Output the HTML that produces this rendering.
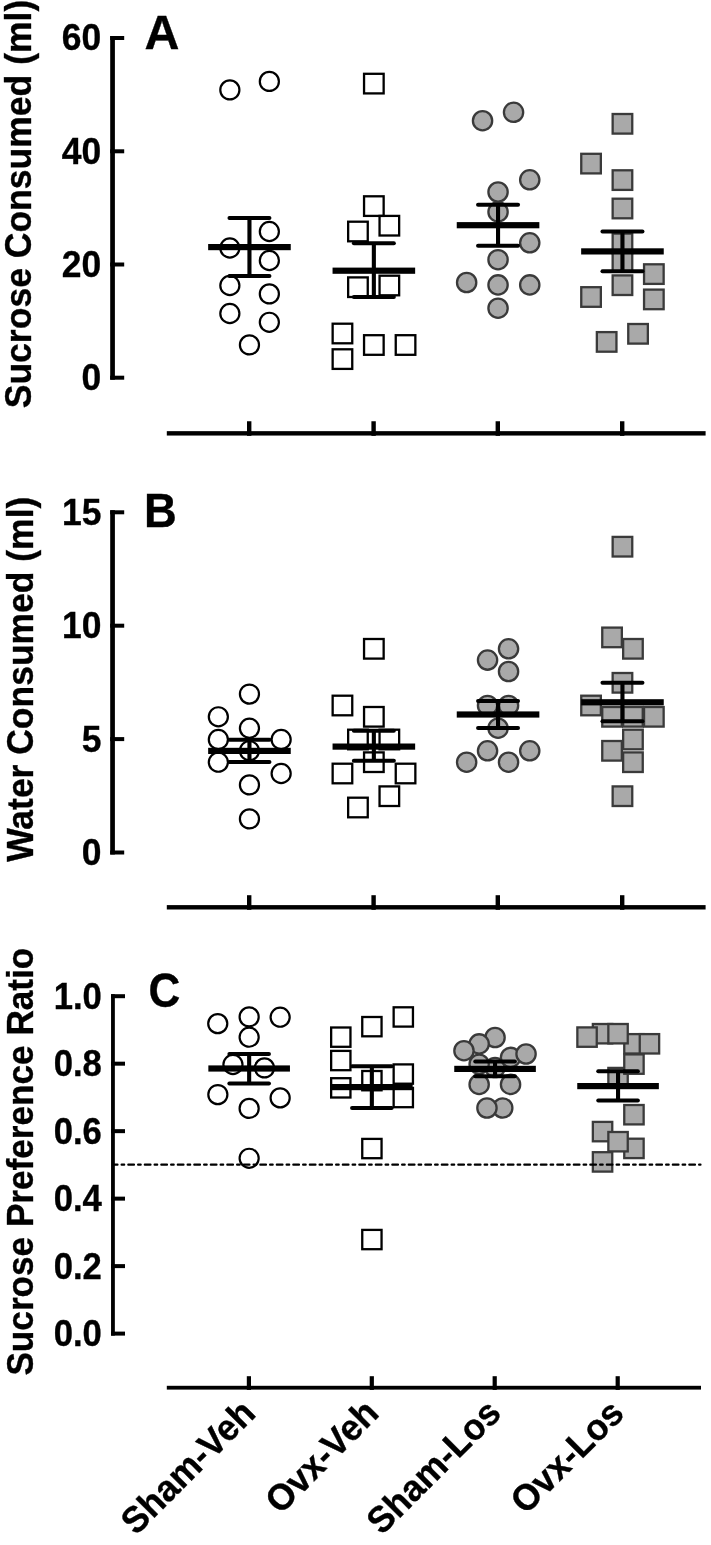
<!DOCTYPE html>
<html lang="en"><head><meta charset="utf-8"><title>Figure</title>
<style>
html,body{margin:0;padding:0;background:#fff;}
svg{display:block;}
text{font-family:"Liberation Sans", Arial, Helvetica, sans-serif;font-weight:bold;fill:#000;stroke:#000;stroke-width:0.35px;}
</style></head><body>
<svg role="img" aria-label="Scatter plots A, B, C" width="711" height="1545" viewBox="0 0 711 1545">
<rect width="711" height="1545" fill="#fff"/>
<rect x="110.20" y="36.00" width="4.70" height="343.70" fill="#000"/>
<rect x="110.20" y="36.00" width="14.00" height="4" fill="#000"/>
<rect x="110.20" y="149.30" width="14.00" height="4" fill="#000"/>
<rect x="110.20" y="262.50" width="14.00" height="4" fill="#000"/>
<rect x="110.20" y="375.70" width="14.00" height="4" fill="#000"/>
<rect x="166.80" y="431.15" width="538.80" height="4.4" fill="#000"/>
<rect x="247.00" y="421.25" width="4.4" height="14.60" fill="#000"/>
<rect x="371.40" y="421.25" width="4.4" height="14.60" fill="#000"/>
<rect x="495.60" y="421.25" width="4.4" height="14.60" fill="#000"/>
<rect x="620.00" y="421.25" width="4.4" height="14.60" fill="#000"/>
<g transform="translate(0.25 0.4)">
<circle cx="229.6" cy="89.5" r="9.55" fill="none" stroke="#000" stroke-width="2.2"/>
<circle cx="269.1" cy="81.0" r="9.55" fill="none" stroke="#000" stroke-width="2.2"/>
<circle cx="269.1" cy="231.1" r="9.55" fill="none" stroke="#000" stroke-width="2.2"/>
<circle cx="229.6" cy="247.6" r="9.55" fill="none" stroke="#000" stroke-width="2.2"/>
<circle cx="269.1" cy="260.1" r="9.55" fill="none" stroke="#000" stroke-width="2.2"/>
<circle cx="229.6" cy="285.1" r="9.55" fill="none" stroke="#000" stroke-width="2.2"/>
<circle cx="269.1" cy="293.5" r="9.55" fill="none" stroke="#000" stroke-width="2.2"/>
<circle cx="229.6" cy="313.1" r="9.55" fill="none" stroke="#000" stroke-width="2.2"/>
<circle cx="269.1" cy="321.9" r="9.55" fill="none" stroke="#000" stroke-width="2.2"/>
<circle cx="249.2" cy="344.5" r="9.55" fill="none" stroke="#000" stroke-width="2.2"/>
<rect x="363.8" y="73.4" width="19.6" height="19.6" fill="none" stroke="#000" stroke-width="2.3"/>
<rect x="363.8" y="195.9" width="19.6" height="19.6" fill="none" stroke="#000" stroke-width="2.3"/>
<rect x="379.3" y="215.5" width="19.6" height="19.6" fill="none" stroke="#000" stroke-width="2.3"/>
<rect x="347.9" y="221.3" width="19.6" height="19.6" fill="none" stroke="#000" stroke-width="2.3"/>
<rect x="347.9" y="277.0" width="19.6" height="19.6" fill="none" stroke="#000" stroke-width="2.3"/>
<rect x="379.3" y="275.3" width="19.6" height="19.6" fill="none" stroke="#000" stroke-width="2.3"/>
<rect x="332.4" y="323.3" width="19.6" height="19.6" fill="none" stroke="#000" stroke-width="2.3"/>
<rect x="363.8" y="334.8" width="19.6" height="19.6" fill="none" stroke="#000" stroke-width="2.3"/>
<rect x="395.5" y="334.8" width="19.6" height="19.6" fill="none" stroke="#000" stroke-width="2.3"/>
<rect x="332.4" y="348.9" width="19.6" height="19.6" fill="none" stroke="#000" stroke-width="2.3"/>
<circle cx="482.3" cy="120.3" r="9.65" fill="#a9a9a9" stroke="#3a3a3a" stroke-width="2.3"/>
<circle cx="513.3" cy="111.9" r="9.65" fill="#a9a9a9" stroke="#3a3a3a" stroke-width="2.3"/>
<circle cx="529.5" cy="179.4" r="9.65" fill="#a9a9a9" stroke="#3a3a3a" stroke-width="2.3"/>
<circle cx="497.8" cy="211.5" r="9.65" fill="#a9a9a9" stroke="#3a3a3a" stroke-width="2.3"/>
<circle cx="497.8" cy="191.6" r="9.65" fill="#a9a9a9" stroke="#3a3a3a" stroke-width="2.3"/>
<circle cx="529.5" cy="242.4" r="9.65" fill="#a9a9a9" stroke="#3a3a3a" stroke-width="2.3"/>
<circle cx="497.8" cy="259.3" r="9.65" fill="#a9a9a9" stroke="#3a3a3a" stroke-width="2.3"/>
<circle cx="466.4" cy="282.1" r="9.65" fill="#a9a9a9" stroke="#3a3a3a" stroke-width="2.3"/>
<circle cx="497.8" cy="284.5" r="9.65" fill="#a9a9a9" stroke="#3a3a3a" stroke-width="2.3"/>
<circle cx="529.5" cy="284.5" r="9.65" fill="#a9a9a9" stroke="#3a3a3a" stroke-width="2.3"/>
<circle cx="497.8" cy="307.8" r="9.65" fill="#a9a9a9" stroke="#3a3a3a" stroke-width="2.3"/>
<rect x="612.4" y="113.6" width="19.6" height="19.6" fill="#a9a9a9" stroke="#3a3a3a" stroke-width="2.3"/>
<rect x="581.0" y="153.4" width="19.6" height="19.6" fill="#a9a9a9" stroke="#3a3a3a" stroke-width="2.3"/>
<rect x="612.4" y="169.9" width="19.6" height="19.6" fill="#a9a9a9" stroke="#3a3a3a" stroke-width="2.3"/>
<rect x="612.4" y="198.3" width="19.6" height="19.6" fill="#a9a9a9" stroke="#3a3a3a" stroke-width="2.3"/>
<rect x="612.4" y="233.2" width="19.6" height="19.6" fill="#a9a9a9" stroke="#3a3a3a" stroke-width="2.3"/>
<rect x="612.4" y="251.2" width="19.6" height="19.6" fill="#a9a9a9" stroke="#3a3a3a" stroke-width="2.3"/>
<rect x="643.8" y="263.9" width="19.6" height="19.6" fill="#a9a9a9" stroke="#3a3a3a" stroke-width="2.3"/>
<rect x="612.4" y="275.0" width="19.6" height="19.6" fill="#a9a9a9" stroke="#3a3a3a" stroke-width="2.3"/>
<rect x="581.0" y="286.8" width="19.6" height="19.6" fill="#a9a9a9" stroke="#3a3a3a" stroke-width="2.3"/>
<rect x="643.8" y="289.2" width="19.6" height="19.6" fill="#a9a9a9" stroke="#3a3a3a" stroke-width="2.3"/>
<rect x="628.0" y="323.6" width="19.6" height="19.6" fill="#a9a9a9" stroke="#3a3a3a" stroke-width="2.3"/>
<rect x="596.6" y="331.7" width="19.6" height="19.6" fill="#a9a9a9" stroke="#3a3a3a" stroke-width="2.3"/>
<rect x="247.15" y="217.50" width="4.1" height="58.10" fill="#000"/>
<rect x="227.20" y="215.50" width="44" height="4.0" rx="2.0" fill="#000"/>
<rect x="227.20" y="273.60" width="44" height="4.0" rx="2.0" fill="#000"/>
<rect x="207.90" y="243.60" width="82.60" height="6.2" fill="#000"/>
<rect x="371.55" y="242.80" width="4.1" height="53.80" fill="#000"/>
<rect x="351.60" y="240.80" width="44" height="4.0" rx="2.0" fill="#000"/>
<rect x="351.60" y="294.60" width="44" height="4.0" rx="2.0" fill="#000"/>
<rect x="332.30" y="267.20" width="82.60" height="6.2" fill="#000"/>
<rect x="495.75" y="204.40" width="4.1" height="40.90" fill="#000"/>
<rect x="475.80" y="202.40" width="44" height="4.0" rx="2.0" fill="#000"/>
<rect x="475.80" y="243.30" width="44" height="4.0" rx="2.0" fill="#000"/>
<rect x="456.50" y="221.70" width="82.60" height="6.2" fill="#000"/>
<rect x="620.15" y="231.10" width="4.1" height="39.70" fill="#000"/>
<rect x="600.20" y="229.10" width="44" height="4.0" rx="2.0" fill="#000"/>
<rect x="600.20" y="268.80" width="44" height="4.0" rx="2.0" fill="#000"/>
<rect x="580.90" y="247.90" width="82.60" height="6.2" fill="#000"/>
</g>
<rect x="110.20" y="510.20" width="4.70" height="344.30" fill="#000"/>
<rect x="110.20" y="510.30" width="14.00" height="4" fill="#000"/>
<rect x="110.20" y="623.70" width="14.00" height="4" fill="#000"/>
<rect x="110.20" y="737.10" width="14.00" height="4" fill="#000"/>
<rect x="110.20" y="850.50" width="14.00" height="4" fill="#000"/>
<rect x="166.80" y="905.10" width="538.80" height="4.4" fill="#000"/>
<rect x="247.00" y="895.20" width="4.4" height="14.60" fill="#000"/>
<rect x="371.40" y="895.20" width="4.4" height="14.60" fill="#000"/>
<rect x="495.60" y="895.20" width="4.4" height="14.60" fill="#000"/>
<rect x="620.00" y="895.20" width="4.4" height="14.60" fill="#000"/>
<g transform="translate(0.25 0.4)">
<circle cx="249.2" cy="693.7" r="9.55" fill="none" stroke="#000" stroke-width="2.2"/>
<circle cx="218.1" cy="716.4" r="9.55" fill="none" stroke="#000" stroke-width="2.2"/>
<circle cx="249.2" cy="727.8" r="9.55" fill="none" stroke="#000" stroke-width="2.2"/>
<circle cx="218.1" cy="739.1" r="9.55" fill="none" stroke="#000" stroke-width="2.2"/>
<circle cx="280.9" cy="739.1" r="9.55" fill="none" stroke="#000" stroke-width="2.2"/>
<circle cx="249.2" cy="750.4" r="9.55" fill="none" stroke="#000" stroke-width="2.2"/>
<circle cx="218.1" cy="761.8" r="9.55" fill="none" stroke="#000" stroke-width="2.2"/>
<circle cx="280.9" cy="773.1" r="9.55" fill="none" stroke="#000" stroke-width="2.2"/>
<circle cx="249.2" cy="784.5" r="9.55" fill="none" stroke="#000" stroke-width="2.2"/>
<circle cx="249.2" cy="818.5" r="9.55" fill="none" stroke="#000" stroke-width="2.2"/>
<rect x="363.8" y="638.6" width="19.6" height="19.6" fill="none" stroke="#000" stroke-width="2.3"/>
<rect x="332.4" y="695.3" width="19.6" height="19.6" fill="none" stroke="#000" stroke-width="2.3"/>
<rect x="363.8" y="706.6" width="19.6" height="19.6" fill="none" stroke="#000" stroke-width="2.3"/>
<rect x="347.9" y="729.3" width="19.6" height="19.6" fill="none" stroke="#000" stroke-width="2.3"/>
<rect x="379.3" y="729.3" width="19.6" height="19.6" fill="none" stroke="#000" stroke-width="2.3"/>
<rect x="363.8" y="752.0" width="19.6" height="19.6" fill="none" stroke="#000" stroke-width="2.3"/>
<rect x="332.4" y="763.3" width="19.6" height="19.6" fill="none" stroke="#000" stroke-width="2.3"/>
<rect x="395.5" y="763.3" width="19.6" height="19.6" fill="none" stroke="#000" stroke-width="2.3"/>
<rect x="379.3" y="786.0" width="19.6" height="19.6" fill="none" stroke="#000" stroke-width="2.3"/>
<rect x="347.9" y="797.3" width="19.6" height="19.6" fill="none" stroke="#000" stroke-width="2.3"/>
<circle cx="508.3" cy="648.4" r="9.65" fill="#a9a9a9" stroke="#3a3a3a" stroke-width="2.3"/>
<circle cx="487.3" cy="659.7" r="9.65" fill="#a9a9a9" stroke="#3a3a3a" stroke-width="2.3"/>
<circle cx="508.3" cy="671.1" r="9.65" fill="#a9a9a9" stroke="#3a3a3a" stroke-width="2.3"/>
<circle cx="487.3" cy="705.1" r="9.65" fill="#a9a9a9" stroke="#3a3a3a" stroke-width="2.3"/>
<circle cx="508.3" cy="705.1" r="9.65" fill="#a9a9a9" stroke="#3a3a3a" stroke-width="2.3"/>
<circle cx="497.8" cy="727.8" r="9.65" fill="#a9a9a9" stroke="#3a3a3a" stroke-width="2.3"/>
<circle cx="487.3" cy="750.4" r="9.65" fill="#a9a9a9" stroke="#3a3a3a" stroke-width="2.3"/>
<circle cx="529.5" cy="750.4" r="9.65" fill="#a9a9a9" stroke="#3a3a3a" stroke-width="2.3"/>
<circle cx="466.4" cy="761.8" r="9.65" fill="#a9a9a9" stroke="#3a3a3a" stroke-width="2.3"/>
<circle cx="508.3" cy="761.8" r="9.65" fill="#a9a9a9" stroke="#3a3a3a" stroke-width="2.3"/>
<rect x="612.4" y="536.5" width="19.6" height="19.6" fill="#a9a9a9" stroke="#3a3a3a" stroke-width="2.3"/>
<rect x="602.0" y="627.2" width="19.6" height="19.6" fill="#a9a9a9" stroke="#3a3a3a" stroke-width="2.3"/>
<rect x="622.9" y="638.6" width="19.6" height="19.6" fill="#a9a9a9" stroke="#3a3a3a" stroke-width="2.3"/>
<rect x="612.4" y="672.6" width="19.6" height="19.6" fill="#a9a9a9" stroke="#3a3a3a" stroke-width="2.3"/>
<rect x="581.0" y="695.3" width="19.6" height="19.6" fill="#a9a9a9" stroke="#3a3a3a" stroke-width="2.3"/>
<rect x="602.0" y="706.6" width="19.6" height="19.6" fill="#a9a9a9" stroke="#3a3a3a" stroke-width="2.3"/>
<rect x="622.9" y="706.6" width="19.6" height="19.6" fill="#a9a9a9" stroke="#3a3a3a" stroke-width="2.3"/>
<rect x="643.8" y="706.6" width="19.6" height="19.6" fill="#a9a9a9" stroke="#3a3a3a" stroke-width="2.3"/>
<rect x="622.9" y="729.3" width="19.6" height="19.6" fill="#a9a9a9" stroke="#3a3a3a" stroke-width="2.3"/>
<rect x="602.0" y="740.6" width="19.6" height="19.6" fill="#a9a9a9" stroke="#3a3a3a" stroke-width="2.3"/>
<rect x="622.9" y="752.0" width="19.6" height="19.6" fill="#a9a9a9" stroke="#3a3a3a" stroke-width="2.3"/>
<rect x="612.4" y="786.0" width="19.6" height="19.6" fill="#a9a9a9" stroke="#3a3a3a" stroke-width="2.3"/>
<rect x="247.15" y="739.40" width="4.1" height="22.30" fill="#000"/>
<rect x="227.20" y="737.40" width="44" height="4.0" rx="2.0" fill="#000"/>
<rect x="227.20" y="759.70" width="44" height="4.0" rx="2.0" fill="#000"/>
<rect x="207.90" y="747.40" width="82.60" height="6.2" fill="#000"/>
<rect x="371.55" y="730.30" width="4.1" height="30.00" fill="#000"/>
<rect x="351.60" y="728.30" width="44" height="4.0" rx="2.0" fill="#000"/>
<rect x="351.60" y="758.30" width="44" height="4.0" rx="2.0" fill="#000"/>
<rect x="332.30" y="743.10" width="82.60" height="6.2" fill="#000"/>
<rect x="495.75" y="700.60" width="4.1" height="27.00" fill="#000"/>
<rect x="475.80" y="698.60" width="44" height="4.0" rx="2.0" fill="#000"/>
<rect x="475.80" y="725.60" width="44" height="4.0" rx="2.0" fill="#000"/>
<rect x="456.50" y="711.00" width="82.60" height="6.2" fill="#000"/>
<rect x="620.15" y="682.30" width="4.1" height="38.50" fill="#000"/>
<rect x="600.20" y="680.30" width="44" height="4.0" rx="2.0" fill="#000"/>
<rect x="600.20" y="718.80" width="44" height="4.0" rx="2.0" fill="#000"/>
<rect x="580.90" y="698.80" width="82.60" height="6.2" fill="#000"/>
</g>
<rect x="111.05" y="994.20" width="3.80" height="341.40" fill="#000"/>
<rect x="111.05" y="1331.60" width="13.95" height="4" fill="#000"/>
<rect x="111.05" y="1264.12" width="13.95" height="4" fill="#000"/>
<rect x="111.05" y="1196.64" width="13.95" height="4" fill="#000"/>
<rect x="111.05" y="1129.16" width="13.95" height="4" fill="#000"/>
<rect x="111.05" y="1061.68" width="13.95" height="4" fill="#000"/>
<rect x="111.05" y="994.20" width="13.95" height="4" fill="#000"/>
<rect x="166.80" y="1385.80" width="534.20" height="3.8" fill="#000"/>
<rect x="246.80" y="1376.20" width="4.2" height="13.70" fill="#000"/>
<rect x="369.70" y="1376.20" width="4.2" height="13.70" fill="#000"/>
<rect x="492.60" y="1376.20" width="4.2" height="13.70" fill="#000"/>
<rect x="615.60" y="1376.20" width="4.2" height="13.70" fill="#000"/>
<g transform="translate(0.25 0.4)">
<circle cx="248.9" cy="1016.5" r="9.55" fill="none" stroke="#000" stroke-width="2.2"/>
<circle cx="279.9" cy="1016.8" r="9.55" fill="none" stroke="#000" stroke-width="2.2"/>
<circle cx="217.5" cy="1023.2" r="9.55" fill="none" stroke="#000" stroke-width="2.2"/>
<circle cx="248.9" cy="1036.8" r="9.55" fill="none" stroke="#000" stroke-width="2.2"/>
<circle cx="232.7" cy="1064.1" r="9.55" fill="none" stroke="#000" stroke-width="2.2"/>
<circle cx="264.2" cy="1067.5" r="9.55" fill="none" stroke="#000" stroke-width="2.2"/>
<circle cx="217.6" cy="1094.2" r="9.55" fill="none" stroke="#000" stroke-width="2.2"/>
<circle cx="279.9" cy="1097.5" r="9.55" fill="none" stroke="#000" stroke-width="2.2"/>
<circle cx="248.9" cy="1108.0" r="9.55" fill="none" stroke="#000" stroke-width="2.2"/>
<circle cx="248.9" cy="1157.9" r="9.55" fill="none" stroke="#000" stroke-width="2.2"/>
<rect x="393.4" y="1006.9" width="19.3" height="19.3" fill="none" stroke="#000" stroke-width="2.3"/>
<rect x="362.0" y="1016.6" width="19.3" height="19.3" fill="none" stroke="#000" stroke-width="2.3"/>
<rect x="330.9" y="1027.1" width="19.3" height="19.3" fill="none" stroke="#000" stroke-width="2.3"/>
<rect x="330.9" y="1050.5" width="19.3" height="19.3" fill="none" stroke="#000" stroke-width="2.3"/>
<rect x="393.4" y="1064.0" width="19.3" height="19.3" fill="none" stroke="#000" stroke-width="2.3"/>
<rect x="362.0" y="1070.6" width="19.3" height="19.3" fill="none" stroke="#000" stroke-width="2.3"/>
<rect x="330.9" y="1077.8" width="19.3" height="19.3" fill="none" stroke="#000" stroke-width="2.3"/>
<rect x="393.4" y="1087.5" width="19.3" height="19.3" fill="none" stroke="#000" stroke-width="2.3"/>
<rect x="362.0" y="1138.5" width="19.3" height="19.3" fill="none" stroke="#000" stroke-width="2.3"/>
<rect x="362.0" y="1229.5" width="19.3" height="19.3" fill="none" stroke="#000" stroke-width="2.3"/>
<circle cx="494.8" cy="1067.1" r="9.65" fill="#a9a9a9" stroke="#3a3a3a" stroke-width="2.3"/>
<circle cx="478.9" cy="1063.8" r="9.65" fill="#a9a9a9" stroke="#3a3a3a" stroke-width="2.3"/>
<circle cx="510.3" cy="1057.0" r="9.65" fill="#a9a9a9" stroke="#3a3a3a" stroke-width="2.3"/>
<circle cx="494.8" cy="1037.1" r="9.65" fill="#a9a9a9" stroke="#3a3a3a" stroke-width="2.3"/>
<circle cx="478.9" cy="1043.5" r="9.65" fill="#a9a9a9" stroke="#3a3a3a" stroke-width="2.3"/>
<circle cx="463.7" cy="1050.3" r="9.65" fill="#a9a9a9" stroke="#3a3a3a" stroke-width="2.3"/>
<circle cx="525.8" cy="1053.6" r="9.65" fill="#a9a9a9" stroke="#3a3a3a" stroke-width="2.3"/>
<circle cx="478.9" cy="1084.0" r="9.65" fill="#a9a9a9" stroke="#3a3a3a" stroke-width="2.3"/>
<circle cx="510.3" cy="1084.0" r="9.65" fill="#a9a9a9" stroke="#3a3a3a" stroke-width="2.3"/>
<circle cx="502.5" cy="1107.6" r="9.65" fill="#a9a9a9" stroke="#3a3a3a" stroke-width="2.3"/>
<circle cx="486.7" cy="1107.6" r="9.65" fill="#a9a9a9" stroke="#3a3a3a" stroke-width="2.3"/>
<rect x="592.6" y="1023.6" width="19.4" height="19.4" fill="#a9a9a9" stroke="#3a3a3a" stroke-width="2.3"/>
<rect x="624.0" y="1033.7" width="19.4" height="19.4" fill="#a9a9a9" stroke="#3a3a3a" stroke-width="2.3"/>
<rect x="608.1" y="1023.6" width="19.4" height="19.4" fill="#a9a9a9" stroke="#3a3a3a" stroke-width="2.3"/>
<rect x="577.1" y="1027.0" width="19.4" height="19.4" fill="#a9a9a9" stroke="#3a3a3a" stroke-width="2.3"/>
<rect x="639.5" y="1033.7" width="19.4" height="19.4" fill="#a9a9a9" stroke="#3a3a3a" stroke-width="2.3"/>
<rect x="608.1" y="1067.5" width="19.4" height="19.4" fill="#a9a9a9" stroke="#3a3a3a" stroke-width="2.3"/>
<rect x="624.0" y="1054.0" width="19.4" height="19.4" fill="#a9a9a9" stroke="#3a3a3a" stroke-width="2.3"/>
<rect x="624.0" y="1104.6" width="19.4" height="19.4" fill="#a9a9a9" stroke="#3a3a3a" stroke-width="2.3"/>
<rect x="592.6" y="1121.5" width="19.4" height="19.4" fill="#a9a9a9" stroke="#3a3a3a" stroke-width="2.3"/>
<rect x="624.0" y="1138.3" width="19.4" height="19.4" fill="#a9a9a9" stroke="#3a3a3a" stroke-width="2.3"/>
<rect x="608.1" y="1131.6" width="19.4" height="19.4" fill="#a9a9a9" stroke="#3a3a3a" stroke-width="2.3"/>
<rect x="592.6" y="1151.8" width="19.4" height="19.4" fill="#a9a9a9" stroke="#3a3a3a" stroke-width="2.3"/>
<rect x="246.85" y="1053.60" width="4.1" height="29.40" fill="#000"/>
<rect x="227.10" y="1051.60" width="43.6" height="4.0" rx="2.0" fill="#000"/>
<rect x="227.10" y="1081.00" width="43.6" height="4.0" rx="2.0" fill="#000"/>
<rect x="208.10" y="1065.00" width="81.60" height="6.2" fill="#000"/>
<rect x="369.55" y="1065.80" width="4.1" height="41.80" fill="#000"/>
<rect x="349.80" y="1063.80" width="43.6" height="4.0" rx="2.0" fill="#000"/>
<rect x="349.80" y="1105.60" width="43.6" height="4.0" rx="2.0" fill="#000"/>
<rect x="330.80" y="1083.60" width="81.60" height="6.2" fill="#000"/>
<rect x="492.75" y="1061.00" width="4.1" height="14.90" fill="#000"/>
<rect x="473.00" y="1059.00" width="43.6" height="4.0" rx="2.0" fill="#000"/>
<rect x="473.00" y="1073.90" width="43.6" height="4.0" rx="2.0" fill="#000"/>
<rect x="454.00" y="1065.40" width="81.60" height="6.2" fill="#000"/>
<rect x="615.75" y="1070.80" width="4.1" height="29.40" fill="#000"/>
<rect x="596.00" y="1068.80" width="43.6" height="4.0" rx="2.0" fill="#000"/>
<rect x="596.00" y="1098.20" width="43.6" height="4.0" rx="2.0" fill="#000"/>
<rect x="577.00" y="1082.60" width="81.60" height="6.2" fill="#000"/>
</g>
<line x1="114.5" y1="1164.7" x2="700.5" y2="1164.7" stroke="#000" stroke-width="2.2" stroke-linecap="round" stroke-dasharray="5.7 4.1 2.6 4.1" stroke-dashoffset="2.7"/>
<text transform="translate(101.20 50.45) scale(0.963 1)" font-size="36.8" text-anchor="end" >60</text>
<text transform="translate(101.20 163.70) scale(0.963 1)" font-size="36.8" text-anchor="end" >40</text>
<text transform="translate(101.20 276.90) scale(0.963 1)" font-size="36.8" text-anchor="end" >20</text>
<text transform="translate(101.20 390.10) scale(0.963 1)" font-size="36.8" text-anchor="end" >0</text>
<text transform="translate(101.40 525.00) scale(0.963 1)" font-size="36.8" text-anchor="end" >15</text>
<text transform="translate(101.40 638.40) scale(0.963 1)" font-size="36.8" text-anchor="end" >10</text>
<text transform="translate(101.40 751.80) scale(0.963 1)" font-size="36.8" text-anchor="end" >5</text>
<text transform="translate(101.40 865.20) scale(0.963 1)" font-size="36.8" text-anchor="end" >0</text>
<text transform="translate(101.90 1346.00) scale(0.942 1)" font-size="36.8" text-anchor="end" >0.0</text>
<text transform="translate(101.90 1278.52) scale(0.942 1)" font-size="36.8" text-anchor="end" >0.2</text>
<text transform="translate(101.90 1211.04) scale(0.942 1)" font-size="36.8" text-anchor="end" >0.4</text>
<text transform="translate(101.90 1143.56) scale(0.942 1)" font-size="36.8" text-anchor="end" >0.6</text>
<text transform="translate(101.90 1076.08) scale(0.942 1)" font-size="36.8" text-anchor="end" >0.8</text>
<text transform="translate(101.90 1008.60) scale(0.942 1)" font-size="36.8" text-anchor="end" >1.0</text>
<text transform="translate(144.40 48.95) scale(1.003 1)" font-size="48.2" text-anchor="start" >A</text>
<text transform="translate(144.00 526.70) scale(0.945 1)" font-size="48.0" text-anchor="start" >B</text>
<text transform="translate(148.60 1006.90) scale(0.912 1)" font-size="48.2" text-anchor="start" >C</text>
<text transform="translate(31.40 408.30) rotate(-90) scale(0.966 1)" font-size="36.8" text-anchor="start" >Sucrose Consumed (ml)</text>
<text transform="translate(32.80 861.80) rotate(-90) scale(0.964 1)" font-size="36.8" text-anchor="start" >Water Consumed (ml)</text>
<text transform="translate(33.40 1375.60) rotate(-90) scale(0.9555 1)" font-size="36.8" text-anchor="start" >Sucrose Preference Ratio</text>
<text transform="translate(257.20 1415.10) rotate(-45) scale(0.963 1)" font-size="36.8" text-anchor="end" >Sham-Veh</text>
<text transform="translate(380.65 1415.00) rotate(-45) scale(0.963 1)" font-size="36.8" text-anchor="end" >Ovx-Veh</text>
<text transform="translate(502.90 1415.00) rotate(-45) scale(0.963 1)" font-size="36.8" text-anchor="end" >Sham-Los</text>
<text transform="translate(626.05 1415.25) rotate(-45) scale(0.963 1)" font-size="36.8" text-anchor="end" >Ovx-Los</text>
</svg>
</body></html>
